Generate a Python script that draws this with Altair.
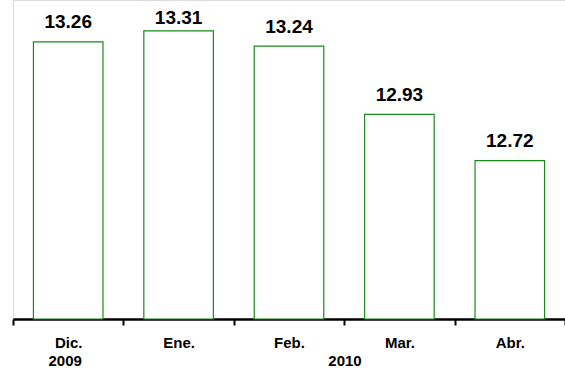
import altair as alt
import pandas as pd

months = ["Dic.", "Ene.", "Feb.", "Mar.", "Abr."]
values = [13.26, 13.31, 13.24, 12.93, 12.72]
years = ["2009", "2010"]

df = pd.DataFrame({"month": months, "value": values})

FONT = "Liberation Sans"

x_enc = alt.X(
    "month:N",
    sort=months,
    scale=alt.Scale(paddingInner=0, paddingOuter=0),
    axis=alt.Axis(
        title=None,
        labelAngle=0,
        labelFont=FONT,
        labelFontSize=15,
        labelFontWeight="bold",
        labelColor="black",
        labelPadding=10,
        domainColor="black",
        domainWidth=2.5,
        tickColor="black",
        tickWidth=2,
        tickSize=6,
        tickBand="extent",
        grid=False,
    ),
)
y_enc = alt.Y(
    "value:Q",
    scale=alt.Scale(domain=[12, 13.45], nice=False, zero=False),
    axis=None,
)

base = alt.Chart(df)

bars = base.mark_bar(
    fill="white", stroke="#1a8a1a", strokeWidth=1.2,
    width=alt.RelativeBandSize(0.63)
).encode(x=x_enc, y=y_enc, y2=alt.datum(12))

labels = base.transform_filter(alt.datum.month != "Ene.").mark_text(
    font=FONT, fontSize=19, fontWeight="bold", color="black",
    baseline="alphabetic", dy=-13.5
).encode(x=alt.X("month:N", sort=months), y="value:Q",
         text=alt.Text("value:Q", format=".2f"))

label_top = base.transform_filter(alt.datum.month == "Ene.").mark_text(
    font=FONT, fontSize=19, fontWeight="bold", color="black",
    baseline="alphabetic", dy=-6.5
).encode(x=alt.X("month:N", sort=months), y="value:Q",
         text=alt.Text("value:Q", format=".2f"))

year1 = alt.Chart(pd.DataFrame({"month": [months[0]], "year": [years[0]]})).mark_text(
    font=FONT, fontSize=15, fontWeight="bold", color="black",
    baseline="alphabetic", dx=-3
).encode(x=alt.X("month:N", sort=months), y=alt.value(366), text="year:N")

year2 = alt.Chart(pd.DataFrame({"month": [months[2]], "year": [years[1]]})).mark_text(
    font=FONT, fontSize=15, fontWeight="bold", color="black",
    baseline="alphabetic", dx=56
).encode(x=alt.X("month:N", sort=months), y=alt.value(366), text="year:N")

chart = alt.layer(bars, labels, label_top, year1, year2).properties(
    width=552,
    height=319,
    autosize=alt.AutoSizeParams(type="none"),
    padding={"left": 13, "top": 0, "right": 0, "bottom": 50},
).configure_view(stroke=None).configure(background="white")

chart.save("out.html", embed_options={"renderer": "svg", "actions": False})
